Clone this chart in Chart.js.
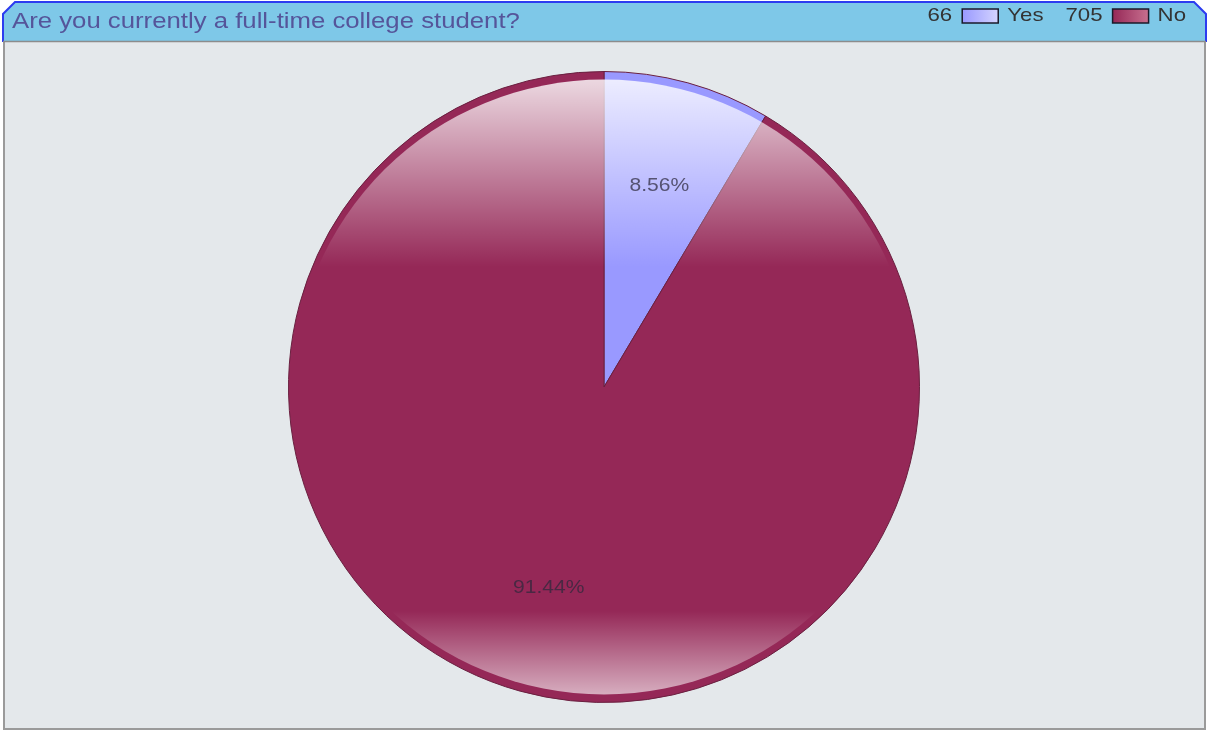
<!DOCTYPE html>
<html>
<head>
<meta charset="utf-8">
<script src="https://cdn.jsdelivr.net/npm/chart.js@4"></script>
<style>
  body { margin: 0; background: #ffffff; }
  canvas { display: block; }
</style>
</head>
<body>
<canvas id="grafico" width="1212" height="731"></canvas>
<script>
// dados do grafico
const titulo = 'Are you currently a full-time college student?'
const categorias = ['Yes', 'No']
const respostas = [66, 705]
const cores = ['#9999ff', '#952857']
const coresClaras = ['#d4d4ff', '#c8708f']

const total = respostas.reduce((a, b) => a + b, 0)
const rotulos = respostas.map(v => (v / total * 100).toFixed(2) + '%')

// texto um pouco esticado na horizontal, como no original
const ESTICA = 1.17

function textoEsticado(ctx, texto, x, y, alinhar){
    const w = ctx.measureText(texto).width * ESTICA
    let x0 = x
    if(alinhar === 'right') x0 = x - w
    if(alinhar === 'center') x0 = x - w / 2
    ctx.save()
    ctx.translate(x0, y)
    ctx.scale(ESTICA, 1)
    ctx.textAlign = 'left'
    ctx.fillText(texto, 0, 0)
    ctx.restore()
    return w
}

// moldura + cabecalho
const moldura = {
    id: 'moldura',
    beforeDraw(chart){
        const ctx = chart.ctx
        ctx.save()
        // painel
        ctx.fillStyle = '#e4e8eb'
        ctx.fillRect(3, 41, 1203, 689)
        ctx.strokeStyle = '#9a9a9a'
        ctx.lineWidth = 2
        ctx.beginPath()
        ctx.moveTo(4, 41)
        ctx.lineTo(4, 729)
        ctx.lineTo(1205, 729)
        ctx.lineTo(1205, 41)
        ctx.stroke()

        // cabecalho
        ctx.beginPath()
        ctx.moveTo(3, 42)
        ctx.lineTo(3, 14)
        ctx.lineTo(15, 2)
        ctx.lineTo(1194, 2)
        ctx.lineTo(1206, 14)
        ctx.lineTo(1206, 42)
        ctx.fillStyle = '#7ec8e8'
        ctx.fill()
        ctx.strokeStyle = '#2c3cf0'
        ctx.lineWidth = 2
        ctx.stroke()
        ctx.beginPath()
        ctx.moveTo(3, 41.5)
        ctx.lineTo(1206, 41.5)
        ctx.strokeStyle = '#8c8c8c'
        ctx.lineWidth = 1.5
        ctx.stroke()

        // titulo
        ctx.font = '22px "Liberation Sans", Arial, sans-serif'
        ctx.fillStyle = '#55559a'
        ctx.textBaseline = 'middle'
        textoEsticado(ctx, titulo, 12, 22, 'left')

        // legenda (da direita para a esquerda)
        ctx.font = '19px "Liberation Sans", Arial, sans-serif'
        let x = 1186
        for(let i = categorias.length - 1; i >= 0; i--){
            ctx.fillStyle = '#333333'
            x -= textoEsticado(ctx, categorias[i], x, 16, 'right') + 9
            const g = ctx.createLinearGradient(x - 36, 0, x, 0)
            g.addColorStop(0, cores[i])
            g.addColorStop(1, coresClaras[i])
            ctx.fillStyle = g
            ctx.fillRect(x - 36, 9, 36, 14)
            ctx.strokeStyle = '#1a1a2a'
            ctx.lineWidth = 1.5
            ctx.strokeRect(x - 36, 9, 36, 14)
            x -= 36 + 10
            ctx.fillStyle = '#333333'
            x -= textoEsticado(ctx, String(respostas[i]), x, 16, 'right') + 22
        }
        ctx.restore()
    }
}

// brilho de vidro por cima da pizza
const brilho = {
    id: 'brilho',
    afterDatasetsDraw(chart){
        const arcs = chart.getDatasetMeta(0).data
        if(!arcs.length) return
        const a = arcs[0]
        const cx = a.x, cy = a.y, r = a.outerRadius
        const ctx = chart.ctx
        const topo = cy - r
        ctx.save()
        ctx.beginPath()
        ctx.ellipse(cx, cy, r - 5, r - 8, 0, 0, Math.PI * 2)
        ctx.clip()

        const gTopo = ctx.createLinearGradient(0, topo + 8, 0, topo + 0.31 * 2 * r)
        gTopo.addColorStop(0, 'rgba(255,255,255,0.82)')
        gTopo.addColorStop(1, 'rgba(255,255,255,0)')
        ctx.fillStyle = gTopo
        ctx.fillRect(cx - r, topo, 2 * r, 0.31 * 2 * r)

        const gBase = ctx.createLinearGradient(0, topo + 0.855 * 2 * r, 0, cy + r - 8)
        gBase.addColorStop(0, 'rgba(255,255,255,0)')
        gBase.addColorStop(1, 'rgba(255,255,255,0.62)')
        ctx.fillStyle = gBase
        ctx.fillRect(cx - r, topo + 0.855 * 2 * r, 2 * r, 2 * r)
        ctx.restore()
    }
}

// percentuais dentro das fatias
const percentuais = {
    id: 'percentuais',
    afterDatasetsDraw(chart){
        const ctx = chart.ctx
        const arcs = chart.getDatasetMeta(0).data
        ctx.save()
        ctx.font = '18px "Liberation Sans", Arial, sans-serif'
        ctx.fillStyle = 'rgba(45,40,60,0.72)'
        ctx.textBaseline = 'middle'
        for(let i = 0; i < arcs.length; i++){
            const arc = arcs[i]
            const meio = (arc.startAngle + arc.endAngle) / 2
            const d = arc.outerRadius * 0.66
            textoEsticado(ctx, rotulos[i], arc.x + Math.cos(meio) * d, arc.y + Math.sin(meio) * d, 'center')
        }
        ctx.restore()
    }
}

new Chart(document.getElementById('grafico'), {
    type: 'pie',
    data: {
        labels: categorias,
        datasets: [{
            data: respostas,
            backgroundColor: cores,
            borderColor: '#6a2040',
            borderWidth: 1
        }]
    },
    options: {
        responsive: false,
        animation: false,
        layout: { padding: { top: 71, bottom: 28, left: 0, right: 4 } },
        plugins: {
            legend: { display: false },
            tooltip: { enabled: false }
        }
    },
    plugins: [moldura, brilho, percentuais]
})
</script>
</body>
</html>
